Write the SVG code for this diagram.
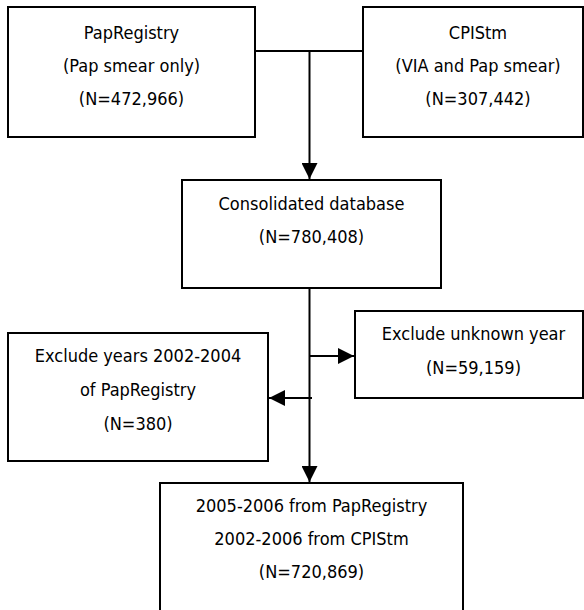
<svg xmlns="http://www.w3.org/2000/svg" width="584" height="610" viewBox="0 0 584 610">
<style>
.box{fill:#fff;stroke:#000;stroke-width:2}
.t{font-family:"DejaVu Sans Condensed","DejaVu Sans",sans-serif;font-stretch:condensed;font-size:18px;fill:#000;text-anchor:middle}
.c{fill:none;stroke:#000;stroke-width:2}
</style>
<defs>
<marker id="ah" markerUnits="userSpaceOnUse" markerWidth="16" markerHeight="16" viewBox="0 0 16 16" refX="16" refY="8" orient="auto">
<path d="M0,0 L16,8 L0,16 Z" fill="#000"/>
</marker>
</defs>
<rect width="584" height="610" fill="#fff"/>
<g id="papregistry">
<rect class="box" x="8" y="7" width="247" height="130"/>
<text class="t" x="131.5" y="39">PapRegistry</text>
<text class="t" x="131.5" y="72">(Pap smear only)</text>
<text class="t" x="131.5" y="105">(N=472,966)</text>
</g>
<g id="cpistm">
<rect class="box" x="363" y="7" width="220" height="130"/>
<text class="t" x="478" y="39">CPIStm</text>
<text class="t" x="478" y="72">(VIA and Pap smear)</text>
<text class="t" x="478" y="105">(N=307,442)</text>
</g>
<g id="consolidated">
<rect class="box" x="182" y="180" width="259" height="108"/>
<text class="t" x="311.5" y="210">Consolidated database</text>
<text class="t" x="311.5" y="243">(N=780,408)</text>
</g>
<g id="exclude-unknown">
<rect class="box" x="355" y="311" width="228" height="87"/>
<text class="t" x="473.5" y="340">Exclude unknown year</text>
<text class="t" x="473.5" y="374">(N=59,159)</text>
</g>
<g id="exclude-years">
<rect class="box" x="8" y="333" width="260" height="128"/>
<text class="t" x="138" y="362">Exclude years 2002-2004</text>
<text class="t" x="138" y="396">of PapRegistry</text>
<text class="t" x="138" y="430">(N=380)</text>
</g>
<g id="final">
<rect class="box" x="160" y="483" width="303" height="140"/>
<text class="t" x="311.5" y="512">2005-2006 from PapRegistry</text>
<text class="t" x="311.5" y="545">2002-2006 from CPIStm</text>
<text class="t" x="311.5" y="578">(N=720,869)</text>
</g>
<g id="connectors">
<path class="c" d="M255,51 H363"/>
<path class="c" d="M309.5,51 V179" marker-end="url(#ah)"/>
<path class="c" d="M309.5,288 V482" marker-end="url(#ah)"/>
<path class="c" d="M309.5,356 H354" marker-end="url(#ah)"/>
<path class="c" d="M312,398 H269" marker-end="url(#ah)"/>
</g>
</svg>
